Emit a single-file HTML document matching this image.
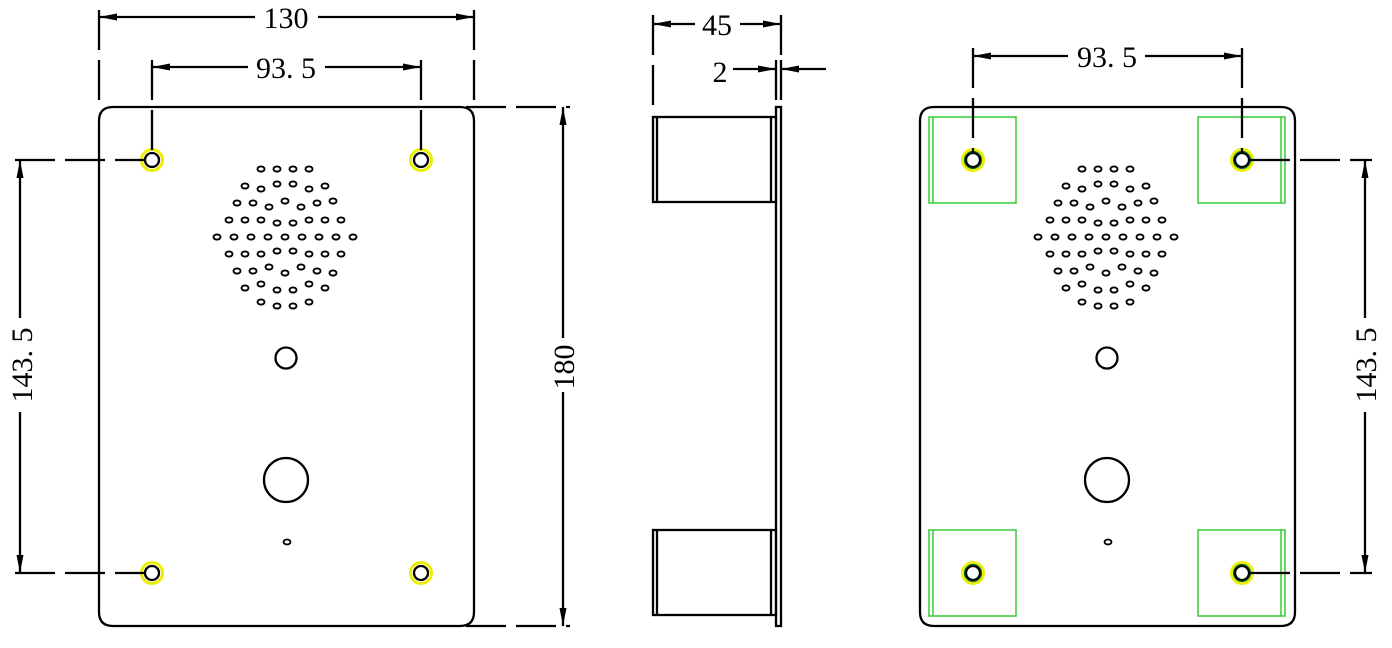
<!DOCTYPE html>
<html><head><meta charset="utf-8"><style>
html,body{margin:0;padding:0;background:#fff;}
svg{display:block;}
text{font-family:"Liberation Serif","Noto Serif CJK SC",serif;font-size:30px;fill:#000;}
</style></head><body>
<svg width="1392" height="648" viewBox="0 0 1392 648" xmlns="http://www.w3.org/2000/svg">
<defs>
<g id="spk" fill="none" stroke="#000" stroke-width="1.9">
<g transform="translate(0,-68)"><ellipse cx="-24" cy="0" rx="3.5" ry="2.6"/><ellipse cx="-8" cy="0" rx="3.5" ry="2.6"/><ellipse cx="8" cy="0" rx="3.5" ry="2.6"/><ellipse cx="24" cy="0" rx="3.5" ry="2.6"/></g>
<g transform="translate(0,-51)"><ellipse cx="-40" cy="0" rx="3.5" ry="2.6"/><ellipse cx="-24" cy="3" rx="3.5" ry="2.6"/><ellipse cx="-8" cy="-2" rx="3.5" ry="2.6"/><ellipse cx="8" cy="-2" rx="3.5" ry="2.6"/><ellipse cx="24" cy="3" rx="3.5" ry="2.6"/><ellipse cx="40" cy="0" rx="3.5" ry="2.6"/></g>
<g transform="translate(0,-34)"><ellipse cx="-48" cy="0" rx="3.5" ry="2.6"/><ellipse cx="-32" cy="0" rx="3.5" ry="2.6"/><ellipse cx="-16" cy="4" rx="3.5" ry="2.6"/><ellipse cx="0" cy="-2" rx="3.5" ry="2.6"/><ellipse cx="16" cy="4" rx="3.5" ry="2.6"/><ellipse cx="32" cy="0" rx="3.5" ry="2.6"/><ellipse cx="48" cy="-2" rx="3.5" ry="2.6"/></g>
<g transform="translate(0,-17)"><ellipse cx="-56" cy="0" rx="3.5" ry="2.6"/><ellipse cx="-40" cy="0" rx="3.5" ry="2.6"/><ellipse cx="-24" cy="0" rx="3.5" ry="2.6"/><ellipse cx="-8" cy="3" rx="3.5" ry="2.6"/><ellipse cx="8" cy="3" rx="3.5" ry="2.6"/><ellipse cx="24" cy="0" rx="3.5" ry="2.6"/><ellipse cx="40" cy="0" rx="3.5" ry="2.6"/><ellipse cx="56" cy="0" rx="3.5" ry="2.6"/></g>
<g><ellipse cx="-68" cy="0" rx="3.5" ry="2.6"/><ellipse cx="-51" cy="0" rx="3.5" ry="2.6"/><ellipse cx="-34" cy="0" rx="3.5" ry="2.6"/><ellipse cx="-17" cy="0" rx="3.5" ry="2.6"/><ellipse cx="0" cy="0" rx="3.5" ry="2.6"/><ellipse cx="17" cy="0" rx="3.5" ry="2.6"/><ellipse cx="34" cy="0" rx="3.5" ry="2.6"/><ellipse cx="51" cy="0" rx="3.5" ry="2.6"/><ellipse cx="68" cy="0" rx="3.5" ry="2.6"/></g>
<g transform="translate(0,17)"><ellipse cx="-56" cy="0" rx="3.5" ry="2.6"/><ellipse cx="-40" cy="0" rx="3.5" ry="2.6"/><ellipse cx="-24" cy="0" rx="3.5" ry="2.6"/><ellipse cx="-8" cy="-3" rx="3.5" ry="2.6"/><ellipse cx="8" cy="-3" rx="3.5" ry="2.6"/><ellipse cx="24" cy="0" rx="3.5" ry="2.6"/><ellipse cx="40" cy="0" rx="3.5" ry="2.6"/><ellipse cx="56" cy="0" rx="3.5" ry="2.6"/></g>
<g transform="translate(0,34)"><ellipse cx="-48" cy="0" rx="3.5" ry="2.6"/><ellipse cx="-32" cy="0" rx="3.5" ry="2.6"/><ellipse cx="-16" cy="-4" rx="3.5" ry="2.6"/><ellipse cx="0" cy="2" rx="3.5" ry="2.6"/><ellipse cx="16" cy="-4" rx="3.5" ry="2.6"/><ellipse cx="32" cy="0" rx="3.5" ry="2.6"/><ellipse cx="48" cy="2" rx="3.5" ry="2.6"/></g>
<g transform="translate(0,51)"><ellipse cx="-40" cy="0" rx="3.5" ry="2.6"/><ellipse cx="-24" cy="-4" rx="3.5" ry="2.6"/><ellipse cx="-8" cy="2" rx="3.5" ry="2.6"/><ellipse cx="8" cy="2" rx="3.5" ry="2.6"/><ellipse cx="24" cy="-4" rx="3.5" ry="2.6"/><ellipse cx="40" cy="0" rx="3.5" ry="2.6"/></g>
<g transform="translate(0,65)"><ellipse cx="-24" cy="0" rx="3.5" ry="2.6"/><ellipse cx="-8" cy="4" rx="3.5" ry="2.6"/><ellipse cx="8" cy="4" rx="3.5" ry="2.6"/><ellipse cx="24" cy="0" rx="3.5" ry="2.6"/></g>
</g>
<g id="panel" fill="none" stroke="#000" stroke-width="2.3">
<path d="M113 107 H460 Q474 107 474 121 V612 Q474 626 460 626 H113 Q99 626 99 612 V121 Q99 107 113 107 Z"/>
<use href="#spk" transform="translate(285,237)"/>
<circle cx="286" cy="358" r="10.5"/>
<circle cx="286" cy="480" r="22"/>
<ellipse cx="287" cy="542" rx="3.5" ry="2.5" stroke-width="1.8"/>
</g>
<g id="holes">
<circle cx="152" cy="160" r="10.5" fill="none" stroke="#ee0" stroke-width="3"/>
<circle cx="152" cy="160" r="7" fill="#fff" stroke="#000" stroke-width="2.3"/>
<circle cx="421" cy="160" r="10.5" fill="none" stroke="#ee0" stroke-width="3"/>
<circle cx="421" cy="160" r="7" fill="#fff" stroke="#000" stroke-width="2.3"/>
<circle cx="152" cy="573" r="10.5" fill="none" stroke="#ee0" stroke-width="3"/>
<circle cx="152" cy="573" r="7" fill="#fff" stroke="#000" stroke-width="2.3"/>
<circle cx="421" cy="573" r="10.5" fill="none" stroke="#ee0" stroke-width="3"/>
<circle cx="421" cy="573" r="7" fill="#fff" stroke="#000" stroke-width="2.3"/>
</g>
</defs>

<use href="#panel"/>
<use href="#holes"/>
<g stroke="#000" stroke-width="2.3" fill="none" stroke-dasharray="40,10">
<line x1="99" y1="10" x2="99" y2="107"/>
<line x1="474" y1="10" x2="474" y2="107"/>
<line x1="152" y1="60" x2="152" y2="152"/>
<line x1="421" y1="60" x2="421" y2="152"/>
<line x1="15" y1="160" x2="145" y2="160"/>
<line x1="15" y1="573" x2="145" y2="573"/>
<line x1="466" y1="107" x2="570" y2="107"/>
<line x1="466" y1="626" x2="570" y2="626"/>
</g>
<g stroke="#000" stroke-width="2.3">
<line x1="99" y1="17" x2="255" y2="17"/><line x1="318" y1="17" x2="474" y2="17"/>
<line x1="152" y1="67" x2="248" y2="67"/><line x1="325" y1="67" x2="421" y2="67"/>
<line x1="20" y1="160" x2="20" y2="318"/><line x1="20" y1="412" x2="20" y2="573"/>
<line x1="563" y1="107" x2="563" y2="338"/><line x1="563" y1="392" x2="563" y2="626"/>
</g>
<g fill="#000">
<polygon points="99,17 117,13.5 117,20.5"/><polygon points="474,17 456,13.5 456,20.5"/>
<polygon points="152,67 170,63.5 170,70.5"/><polygon points="421,67 403,63.5 403,70.5"/>
<polygon points="20,160 16.5,178 23.5,178"/><polygon points="20,573 16.5,555 23.5,555"/>
<polygon points="563,107 559.5,125 566.5,125"/><polygon points="563,626 559.5,608 566.5,608"/>
</g>
<text x="286" y="28" text-anchor="middle">130</text>
<text x="286" y="78" text-anchor="middle">93. 5</text>
<text transform="translate(32,365) rotate(-90)" text-anchor="middle">143. 5</text>
<text transform="translate(574,367) rotate(-90)" text-anchor="middle">180</text>

<g stroke="#000" stroke-width="2.3" fill="none">
<rect x="776" y="107" width="5" height="519"/>
<rect x="653" y="117" width="123" height="85"/>
<line x1="657" y1="117" x2="657" y2="202"/>
<line x1="771" y1="117" x2="771" y2="202"/>
<rect x="653" y="530" width="123" height="85"/>
<line x1="657" y1="530" x2="657" y2="615"/>
<line x1="771" y1="530" x2="771" y2="615"/>
</g>
<g stroke="#000" stroke-width="2.3" stroke-dasharray="40,10">
<line x1="653" y1="15" x2="653" y2="110"/>
<line x1="781" y1="15" x2="781" y2="55"/>
</g>
<g stroke="#000" stroke-width="2.3">
<line x1="776" y1="60" x2="776" y2="100"/><line x1="781" y1="60" x2="781" y2="100"/>
<line x1="653" y1="24" x2="695" y2="24"/><line x1="740" y1="24" x2="781" y2="24"/>
<line x1="733" y1="69" x2="776" y2="69"/><line x1="781" y1="69" x2="826" y2="69"/>
</g>
<g fill="#000">
<polygon points="653,24 671,20.5 671,27.5"/><polygon points="781,24 763,20.5 763,27.5"/>
<polygon points="776,69 758,65.5 758,72.5"/><polygon points="781,69 799,65.5 799,72.5"/>
</g>
<text x="717" y="35" text-anchor="middle">45</text>
<text x="720" y="82" text-anchor="middle">2</text>

<g transform="translate(821,0)">
<use href="#panel"/>
<g fill="none" stroke="#3c3" stroke-width="1.5">
<rect x="108" y="117" width="87" height="86"/><line x1="112" y1="117" x2="112" y2="203"/>
<rect x="377" y="117" width="87" height="86"/><line x1="460" y1="117" x2="460" y2="203"/>
<rect x="108" y="530" width="87" height="86"/><line x1="112" y1="530" x2="112" y2="616"/>
<rect x="377" y="530" width="87" height="86"/><line x1="460" y1="530" x2="460" y2="616"/>
</g>
<use href="#holes"/>
<g fill="none" stroke="#063" stroke-width="1.2">
<circle cx="152" cy="160" r="8.5"/><circle cx="421" cy="160" r="8.5"/>
<circle cx="152" cy="573" r="8.5"/><circle cx="421" cy="573" r="8.5"/>
</g>
</g>
<g stroke="#000" stroke-width="2.3" stroke-dasharray="40,10">
<line x1="973" y1="48" x2="973" y2="152"/>
<line x1="1242" y1="48" x2="1242" y2="152"/>
<line x1="1250" y1="160" x2="1372" y2="160"/>
<line x1="1250" y1="573" x2="1372" y2="573"/>
</g>
<g stroke="#000" stroke-width="2.3">
<line x1="973" y1="56" x2="1068" y2="56"/><line x1="1145" y1="56" x2="1242" y2="56"/>
<line x1="1365" y1="160" x2="1365" y2="318"/><line x1="1365" y1="412" x2="1365" y2="573"/>
</g>
<g fill="#000">
<polygon points="973,56 991,52.5 991,59.5"/><polygon points="1242,56 1224,52.5 1224,59.5"/>
<polygon points="1365,160 1361.5,178 1368.5,178"/><polygon points="1365,573 1361.5,555 1368.5,555"/>
</g>
<text x="1107" y="67" text-anchor="middle">93. 5</text>
<text transform="translate(1376,365) rotate(-90)" text-anchor="middle">143. 5</text>
</svg>
</body></html>
